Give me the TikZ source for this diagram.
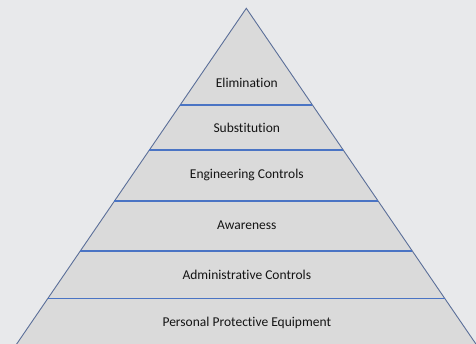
\documentclass[tikz,border=0pt]{standalone}
\usepackage{fontspec}
\setmainfont{Carlito}[Ligatures=NoCommon]
\definecolor{bgc}{HTML}{E8E9EB}
\definecolor{fillc}{HTML}{DADADA}
\definecolor{edgec}{HTML}{5B6F99}
\definecolor{linec}{HTML}{4A74C4}
\definecolor{txtc}{HTML}{141414}
\tikzset{
  lvl/.style={font=\fontsize{13.5}{15}\selectfont, text=txtc, inner sep=0pt, anchor=center},
  sep/.style={draw=linec, line width=1.1pt},
}
\begin{document}
\begin{tikzpicture}[x=1pt,y=-1pt]
\useasboundingbox (0,0) rectangle (476,344);
\fill[bgc] (0,0) rectangle (476,344);
\begin{scope}
\clip (0,0) rectangle (476,344);
\coordinate (apex) at (246.3,8.3);
\coordinate (bl) at ({246.3-0.684*400},408.3);
\coordinate (br) at ({246.3+0.684*400},408.3);
\filldraw[fill=fillc, draw=edgec, line width=0.9pt] (bl) -- (apex) -- (br) -- cycle;
\foreach \y/\n in {105/a,150/b,201/c,251/d,298.7/e}{
  \coordinate (l\n) at ({246.3-0.684*(\y-8.3)},\y);
  \coordinate (r\n) at ({246.3+0.684*(\y-8.3)},\y);
  \draw[sep] (l\n) -- (r\n);
}
\end{scope}
\node[lvl] (elim) at (246.8,82.5) {Elimination};
\node[lvl] (subs) at (246.8,127.5) {Substitution};
\node[lvl] (eng) at (246.8,175) {Engineering Controls};
\node[lvl] (awa) at (246.8,225.5) {Awareness};
\node[lvl] (adm) at (246.8,275) {Administrative Controls};
\node[lvl] (ppe) at (246.8,322.5) {Personal Protective Equipment};
\end{tikzpicture}
\end{document}
